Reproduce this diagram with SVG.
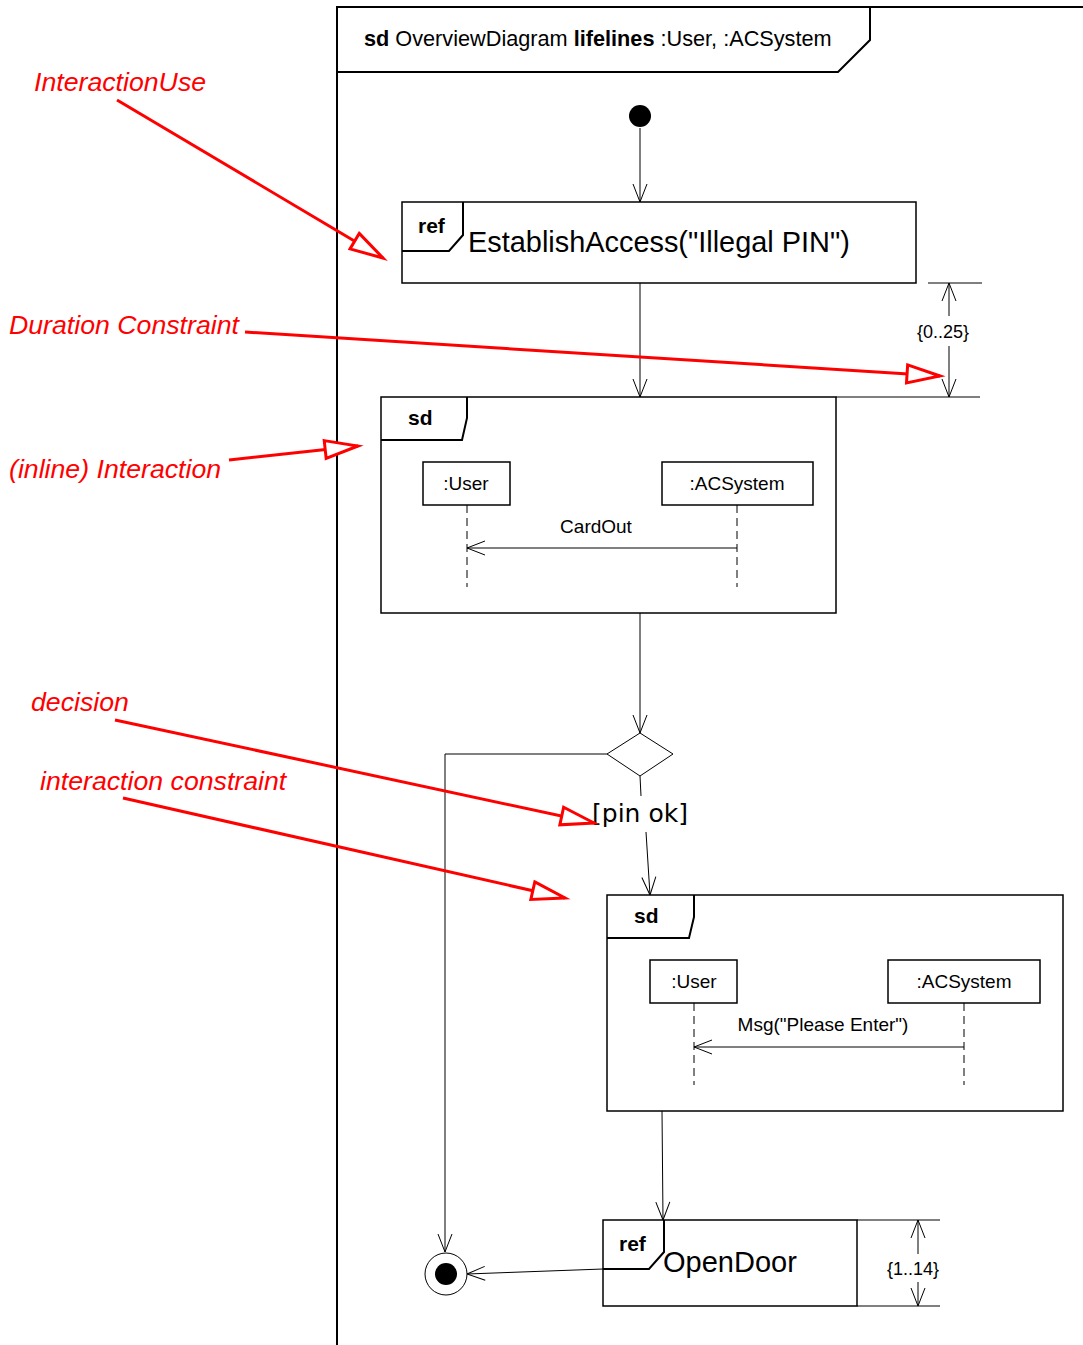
<svg xmlns="http://www.w3.org/2000/svg" width="1083" height="1345" viewBox="0 0 1083 1345">
<style>
text{font-family:"Liberation Sans",Arial,sans-serif;fill:#000}
.frame{fill:none;stroke:#000;stroke-width:2}
.box{fill:#fff;stroke:#000;stroke-width:1.5}
.flow{fill:none;stroke:#000;stroke-width:1}
.life{fill:none;stroke:#000;stroke-width:1;stroke-dasharray:8,5}
.dim{fill:none;stroke:#000;stroke-width:1}
.note{fill:red;font-style:italic;font-size:26.7px}
.red{fill:none;stroke:red;stroke-width:3;marker-end:url(#tri)}
.b{font-weight:bold}
</style>
<defs>
<marker id="open" markerUnits="userSpaceOnUse" markerWidth="22" markerHeight="16" refX="18" refY="7" orient="auto" overflow="visible">
<path d="M0,0 L18,7 L0,14" fill="none" stroke="#000" stroke-width="1"/>
</marker>
<marker id="tri" markerUnits="userSpaceOnUse" markerWidth="40" markerHeight="24" refX="33" refY="9" orient="auto" overflow="visible">
<path d="M0,0 L33,9 L0,18 Z" fill="#fff" stroke="red" stroke-width="3" stroke-linejoin="miter"/>
</marker>
</defs>

<g id="outer-frame">
<path class="frame" d="M337,1345 L337,7 L1083,7"/>
<path class="frame" d="M337,72 L838,72 L870,40 L870,7"/>
<text x="364" y="46" font-size="21.7"><tspan class="b">sd</tspan> OverviewDiagram <tspan class="b">lifelines</tspan> :User, :ACSystem</text>
</g>

<g id="connectors">
<line class="flow" x1="640" y1="128" x2="640" y2="202" marker-end="url(#open)"/>
<line class="flow" x1="640" y1="283" x2="640" y2="397" marker-end="url(#open)"/>
<line class="flow" x1="640" y1="613" x2="640" y2="733" marker-end="url(#open)"/>
<polyline class="flow" points="607,754 445,754 445,1252" marker-end="url(#open)"/>
<line class="flow" x1="640" y1="776" x2="641" y2="796"/>
<line class="flow" x1="646" y1="832" x2="650" y2="895" marker-end="url(#open)"/>
<line class="flow" x1="662" y1="1111" x2="663" y2="1220" marker-end="url(#open)"/>
<line class="flow" x1="603" y1="1269" x2="467" y2="1274" marker-end="url(#open)"/>
</g>

<g id="initial">
<circle cx="640" cy="116" r="11" fill="#000"/>
</g>

<g id="ref-establish">
<rect class="box" x="402" y="202" width="514" height="81"/>
<path class="frame" d="M402,251 L449,251 L463,235 L463,202" stroke-width="1.5"/>
<text x="418" y="233" font-size="21" class="b">ref</text>
<text x="468" y="252" font-size="28.9">EstablishAccess("Illegal PIN")</text>
</g>

<g id="duration-1">
<line class="dim" x1="928" y1="283" x2="982" y2="283"/>
<line class="dim" x1="836" y1="397" x2="980" y2="397"/>
<line class="dim" x1="949" y1="316" x2="949" y2="283" marker-end="url(#open)"/>
<line class="dim" x1="949" y1="346" x2="949" y2="397" marker-end="url(#open)"/>
<text x="943" y="338" font-size="18" text-anchor="middle">{0..25}</text>
</g>

<g id="sd-cardout">
<rect class="box" x="381" y="397" width="455" height="216"/>
<path class="frame" d="M381,440 L462,440 L467,418 L467,397" stroke-width="1.5"/>
<text x="408" y="425" font-size="21" class="b">sd</text>
<rect class="box" x="423" y="462" width="87" height="43" stroke-width="1"/>
<text x="466" y="490" font-size="19" text-anchor="middle">:User</text>
<rect class="box" x="662" y="462" width="151" height="43" stroke-width="1"/>
<text x="737" y="490" font-size="19" text-anchor="middle">:ACSystem</text>
<line class="life" x1="467" y1="505" x2="467" y2="587"/>
<line class="life" x1="737" y1="505" x2="737" y2="587"/>
<line class="flow" x1="737" y1="548" x2="467" y2="548" marker-end="url(#open)"/>
<text x="596" y="533" font-size="19" text-anchor="middle">CardOut</text>
</g>

<g id="decision">
<polygon points="640,733 673,754 640,776 607,754" fill="#fff" stroke="#000" stroke-width="1"/>
<text x="640" y="822" font-size="25" text-anchor="middle" style="font-family:'DejaVu Sans',sans-serif">[pin ok]</text>
</g>

<g id="sd-msg">
<rect class="box" x="607" y="895" width="456" height="216"/>
<path class="frame" d="M607,938 L689,938 L694,917 L694,895" stroke-width="1.5"/>
<text x="634" y="923" font-size="21" class="b">sd</text>
<rect class="box" x="650" y="960" width="87" height="43" stroke-width="1"/>
<text x="694" y="988" font-size="19" text-anchor="middle">:User</text>
<rect class="box" x="888" y="960" width="152" height="43" stroke-width="1"/>
<text x="964" y="988" font-size="19" text-anchor="middle">:ACSystem</text>
<line class="life" x1="694" y1="1003" x2="694" y2="1085"/>
<line class="life" x1="964" y1="1003" x2="964" y2="1085"/>
<line class="flow" x1="964" y1="1047" x2="694" y2="1047" marker-end="url(#open)"/>
<text x="823" y="1031" font-size="19" text-anchor="middle">Msg("Please Enter")</text>
</g>

<g id="ref-opendoor">
<rect class="box" x="603" y="1220" width="254" height="86"/>
<path class="frame" d="M603,1269 L649,1269 L664,1252 L664,1220" stroke-width="1.5"/>
<text x="619" y="1251" font-size="21" class="b">ref</text>
<text x="663" y="1272" font-size="29">OpenDoor</text>
</g>

<g id="duration-2">
<line class="dim" x1="857" y1="1220" x2="940" y2="1220"/>
<line class="dim" x1="857" y1="1306" x2="940" y2="1306"/>
<line class="dim" x1="918" y1="1254" x2="918" y2="1220" marker-end="url(#open)"/>
<line class="dim" x1="918" y1="1282" x2="918" y2="1306" marker-end="url(#open)"/>
<text x="913" y="1275" font-size="18" text-anchor="middle">{1..14}</text>
</g>

<g id="final">
<circle cx="446" cy="1274" r="21" fill="#fff" stroke="#000" stroke-width="1"/>
<circle cx="446" cy="1274" r="11" fill="#000"/>
</g>

<g id="annotations">
<text class="note" x="34" y="91">InteractionUse</text>
<line class="red" x1="117" y1="100" x2="383" y2="258"/>
<text class="note" x="9" y="334">Duration Constraint</text>
<line class="red" x1="245" y1="332" x2="940" y2="376"/>
<text class="note" x="9" y="478">(inline) Interaction</text>
<line class="red" x1="229" y1="460" x2="358" y2="446"/>
<text class="note" x="31" y="711">decision</text>
<line class="red" x1="115" y1="720" x2="594" y2="823"/>
<text class="note" x="40" y="790">interaction constraint</text>
<line class="red" x1="123" y1="798" x2="565" y2="898"/>
</g>
</svg>
